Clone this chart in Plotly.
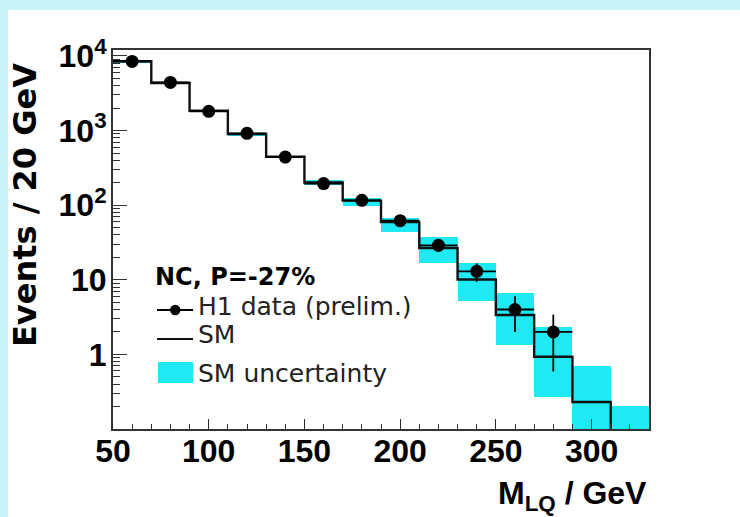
import plotly.graph_objects as go

# ---------------- data ----------------
bin_edges = [50, 70, 90, 110, 130, 150, 170, 190, 210, 230, 250, 270, 290, 310, 330]
bin_centers = [60, 80, 100, 120, 140, 160, 180, 200, 220, 240, 260, 280, 300, 320]
sm_values = [8500, 4340, 1845, 900, 445, 201, 115, 59.5, 26.7, 10.1, 3.37, 0.93, 0.23, 0.08]
sm_upper = [8750, 4450, 1910, 925, 458, 215, 125, 67.6, 37.9, 17.0, 6.65, 2.32, 0.70, 0.204]
sm_lower = [8250, 4230, 1780, 870, 430, 187, 97, 44.3, 16.8, 5.25, 1.33, 0.27, 0.05, 0.05]

data_x = [60, 80, 100, 120, 140, 160, 180, 200, 220, 240, 260, 280]
data_y = [8460, 4420, 1810, 920, 441, 195, 116, 62, 29, 13, 4, 2]
data_err = [92, 66, 42.5, 30.3, 21, 14, 10.8, 7.9, 5.4, 3.6, 2.0, 1.41]

x_tickvals = [50, 100, 150, 200, 250, 300]
x_ticktext = ["50", "100", "150", "200", "250", "300"]
y_tickvals = [1, 10, 100, 1000, 10000]
y_ticktext = ["1", "10", "10<sup>2</sup>", "10<sup>3</sup>", "10<sup>4</sup>"]

CYAN = "#1fe9f2"
W, H = 740, 517
ML, MR, MT, MB = 113, 91, 50, 88
PW, PH = W - ML - MR, H - MT - MB


def px(x):
    return (x - ML) / PW


def py(y):
    return (H - MB - y) / PH


fig = go.Figure()

# SM uncertainty band
fig.add_trace(go.Bar(
    x=bin_centers,
    base=sm_lower,
    y=[u - l for u, l in zip(sm_upper, sm_lower)],
    width=20,
    marker=dict(color=CYAN, line=dict(width=0)),
    showlegend=False,
    hoverinfo="skip",
))

# SM histogram (step line)
fig.add_trace(go.Scatter(
    x=bin_edges,
    y=sm_values + [sm_values[-1]],
    mode="lines",
    line=dict(color="#111111", width=2.4, shape="hv"),
    showlegend=False,
))

# data points
fig.add_trace(go.Scatter(
    x=data_x,
    y=data_y,
    mode="markers",
    marker=dict(color="black", size=13),
    error_y=dict(type="data", array=data_err, color="black", thickness=1.8, width=0),
    error_x=dict(type="constant", value=10, color="black", thickness=1.8, width=0),
    showlegend=False,
))

# minor tick positions for log axis
y_minor = [m * 10 ** e for e in range(-1, 4) for m in range(2, 10)]

fig.update_layout(
    width=W, height=H,
    margin=dict(l=ML, r=MR, t=MT, b=MB),
    paper_bgcolor="#c9f3f7",
    plot_bgcolor="white",
    bargap=0,
    showlegend=False,
    xaxis=dict(
        range=[50, 330],
        tickvals=x_tickvals, ticktext=x_ticktext,
        ticks="inside", ticklen=10, tickwidth=1.2, tickcolor="#333",
        minor=dict(dtick=10, tick0=50, ticks="inside", ticklen=5, tickwidth=1, tickcolor="#333"),
        showline=True, linecolor="#333", linewidth=2, mirror=True,
        showgrid=False, zeroline=False,
        tickfont=dict(family="Liberation Sans, Arial", size=32, color="black", weight="bold"),
        ticklabelstandoff=-7,
    ),
    yaxis=dict(
        type="log",
        range=[-1, 4.08],
        tickvals=y_tickvals, ticktext=y_ticktext,
        ticks="inside", ticklen=14, tickwidth=1.2, tickcolor="#333",
        minor=dict(tickvals=y_minor, ticks="inside", ticklen=7, tickwidth=1, tickcolor="#333"),
        showline=True, linecolor="#333", linewidth=2, mirror=True,
        showgrid=False, zeroline=False,
        tickfont=dict(family="Liberation Sans, Arial", size=32, color="black", weight="bold"),
        ticklabelstandoff=-2,
    ),
)

shapes = [
    # white page over cyan frame strips
    dict(type="rect", xref="paper", yref="paper", layer="below",
         x0=px(8), x1=px(W + 5), y0=py(H + 5), y1=py(10),
         fillcolor="white", line=dict(width=0)),
    # legend: data line + dot
    dict(type="line", xref="paper", yref="paper", x0=px(157), x1=px(193), y0=py(310), y1=py(310),
         line=dict(color="black", width=1.8)),
    dict(type="circle", xref="paper", yref="paper", x0=px(170), x1=px(180.5), y0=py(315.3), y1=py(304.7),
         fillcolor="black", line=dict(color="black", width=0)),
    # legend: SM line
    dict(type="line", xref="paper", yref="paper", x0=px(157), x1=px(193), y0=py(339), y1=py(339),
         line=dict(color="#111", width=2)),
    # legend: cyan box
    dict(type="rect", xref="paper", yref="paper", x0=px(158), x1=px(193), y0=py(383), y1=py(362),
         fillcolor=CYAN, line=dict(width=0)),
]
fig.update_layout(shapes=shapes)

LEG_FONT = dict(family="DejaVu Sans", size=25, color="#222")
annotations = [
    dict(text="<b>NC, P=-27%</b>", x=px(153), y=py(277), xanchor="left", yanchor="middle",
         font=dict(family="DejaVu Sans", size=24, color="black")),
    dict(text="H1 data (prelim.)", x=px(196), y=py(306), xanchor="left", yanchor="middle", font=LEG_FONT),
    dict(text="SM", x=px(196), y=py(334), xanchor="left", yanchor="middle", font=LEG_FONT),
    dict(text="SM uncertainty", x=px(196), y=py(373), xanchor="left", yanchor="middle", font=LEG_FONT),
    dict(text="<b>Events / 20 GeV</b>", x=px(25), y=py(205), textangle=-90, xanchor="center", yanchor="middle",
         font=dict(family="DejaVu Sans", size=32, color="black")),
    dict(text="<b>M<sub>LQ</sub> / GeV</b>", x=px(649), y=py(495), xanchor="right", yanchor="middle",
         font=dict(family="Liberation Sans, Arial", size=32, color="black")),
]
for a in annotations:
    a.update(xref="paper", yref="paper", showarrow=False)
fig.update_layout(annotations=annotations)

fig.write_html("out.html")
